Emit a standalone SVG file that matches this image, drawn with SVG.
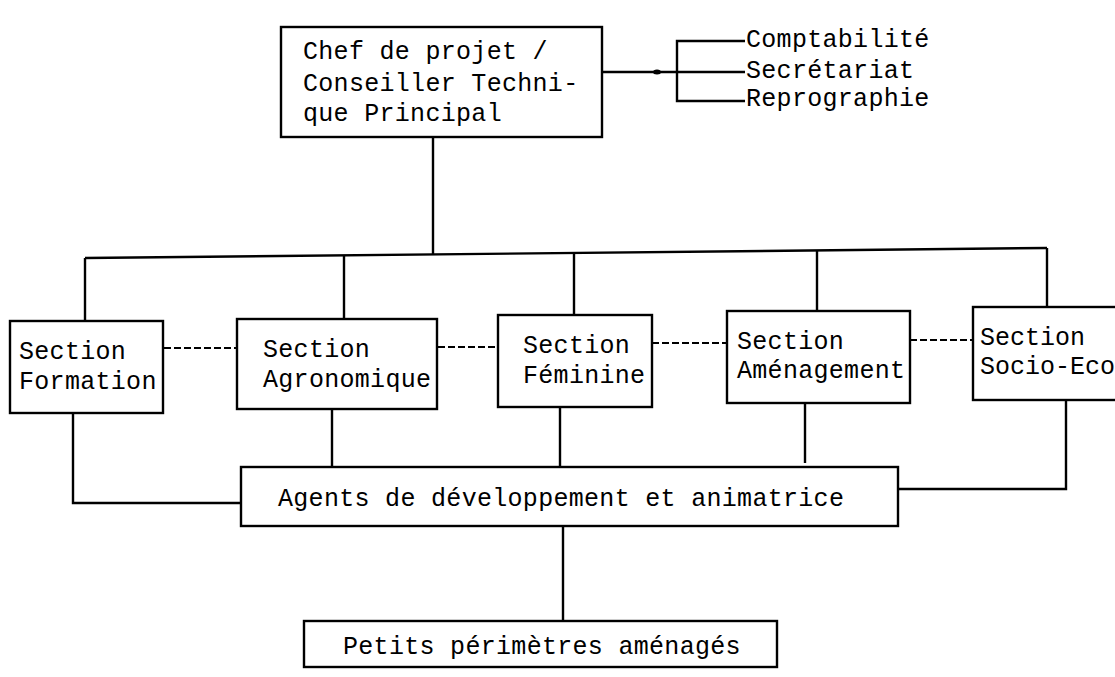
<svg xmlns="http://www.w3.org/2000/svg" width="1115" height="677" viewBox="0 0 1115 677">
<style>
.box{fill:#fff;stroke:#000;stroke-width:2.4}
.ln{fill:none;stroke:#000;stroke-width:2.4}
.dash{fill:none;stroke:#000;stroke-width:2.2;stroke-dasharray:7 3}
text{font-family:"Liberation Mono","DejaVu Sans Mono",monospace;font-size:25px;fill:#000;letter-spacing:0.3px}
</style>
<rect width="1115" height="677" fill="#fff"/>
<g id="connectors">
<line class="ln" x1="433" y1="137" x2="433" y2="254.4"/>
<line class="ln" x1="85" y1="258" x2="1047" y2="248"/>
<line class="ln" x1="85" y1="258" x2="85" y2="321"/>
<line class="ln" x1="344" y1="255.3" x2="344" y2="319"/>
<line class="ln" x1="574" y1="252.9" x2="574" y2="315"/>
<line class="ln" x1="817" y1="250.4" x2="817" y2="311"/>
<line class="ln" x1="1047" y1="248" x2="1047" y2="307"/>
<line class="ln" x1="602" y1="72" x2="745" y2="72"/>
<polyline class="ln" points="745,41 677,41 677,101 745,101"/>
<ellipse cx="657" cy="72" rx="4" ry="2.5" fill="#000"/>
<line class="dash" x1="164" y1="348" x2="237" y2="348"/>
<line class="dash" x1="438" y1="347" x2="498" y2="347"/>
<line class="dash" x1="652" y1="343" x2="727" y2="343"/>
<line class="dash" x1="910" y1="340" x2="973" y2="340"/>
<polyline class="ln" points="73,413 73,503 241,503"/>
<line class="ln" x1="332" y1="409" x2="332" y2="469"/>
<line class="ln" x1="560" y1="407" x2="560" y2="467"/>
<line class="ln" x1="805" y1="403" x2="805" y2="463"/>
<polyline class="ln" points="1066,400 1066,489 898,489"/>
<line class="ln" x1="563" y1="526" x2="563" y2="621"/>
</g>
<g id="chef">
<rect class="box" x="281" y="27" width="321" height="110"/>
<text x="303" y="59">Chef de projet /</text>
<text x="303" y="91">Conseiller Techni-</text>
<text x="303" y="121">que Principal</text>
</g>
<g id="services">
<text x="746" y="47">Comptabilité</text>
<text x="746" y="78">Secrétariat</text>
<text x="746" y="106">Reprographie</text>
</g>
<g id="formation">
<rect class="box" x="10" y="321" width="153" height="92"/>
<text x="19" y="359">Section</text>
<text x="19" y="389">Formation</text>
</g>
<g id="agronomique">
<rect class="box" x="237" y="319" width="200" height="90"/>
<text x="263" y="357">Section</text>
<text x="263" y="387">Agronomique</text>
</g>
<g id="feminine">
<rect class="box" x="498" y="315" width="154" height="92"/>
<text x="523" y="353">Section</text>
<text x="523" y="383">Féminine</text>
</g>
<g id="amenagement">
<rect class="box" x="727" y="311" width="183" height="92"/>
<text x="737" y="349">Section</text>
<text x="737" y="378">Aménagement</text>
</g>
<g id="socio">
<rect class="box" x="973" y="307" width="170" height="93"/>
<text x="980" y="345" style="letter-spacing:0">Section</text>
<text x="980" y="374" style="letter-spacing:0">Socio-Eco</text>
</g>
<g id="agents">
<rect class="box" x="241" y="467" width="657" height="59"/>
<text x="278" y="506">Agents de développement et animatrice</text>
</g>
<g id="petits">
<rect class="box" x="304" y="621" width="473" height="46"/>
<text x="343" y="654">Petits périmètres aménagés</text>
</g>
</svg>
